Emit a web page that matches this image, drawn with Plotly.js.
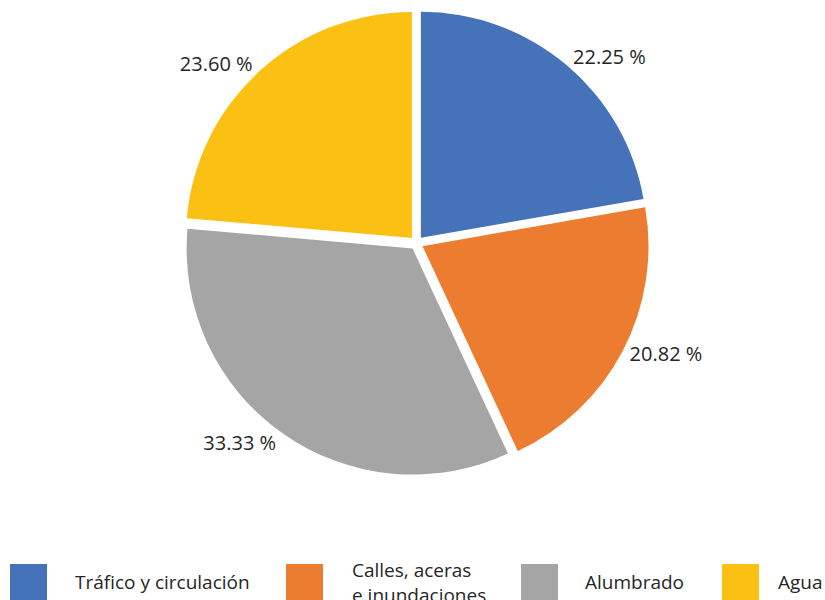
<!DOCTYPE html>
<html>
<head>
<meta charset="utf-8">
<script src="https://cdn.plot.ly/plotly-3.0.1.min.js"></script>
<style>html,body{margin:0;padding:0;background:#fff;}#chart{width:825px;height:600px;}</style>
</head>
<body>
<div id="chart"></div>
<script>
const categories = ["Tráfico y circulación", "Calles, aceras<br>e inundaciones", "Alumbrado", "Agua"];
const shares = [22.25, 20.82, 33.33, 23.60];
const colors = ["#4672BA", "#EC7C30", "#A5A5A5", "#FBC014"];

const FONT = "Open Sans, Noto Sans, sans-serif";

const trace = {
  type: "pie",
  labels: categories,
  values: shares,
  sort: false,
  direction: "clockwise",
  rotation: 0,
  pull: 0.03,
  marker: {colors: colors, line: {width: 0}},
  texttemplate: "%{value:.2f} %",
  textposition: "outside",
  outsidetextfont: {family: FONT, size: 20, color: "#262626"},
  hoverinfo: "none",
  showlegend: false,
  domain: {x: [0.2227, 0.787], y: [0.207, 0.983]}
};

// custom legend built from categories and colors
const legendBoxX = [10, 286, 521, 722];
const legendTextX = [73, 350, 583, 776];
const shapes = [];
const annotations = [];
categories.forEach((c, i) => {
  shapes.push({
    type: "rect", xref: "paper", yref: "paper",
    x0: legendBoxX[i] / 825, x1: (legendBoxX[i] + 37) / 825,
    y0: 0, y1: 36 / 600,
    fillcolor: colors[i], line: {width: 0}
  });
  annotations.push({
    xref: "paper", yref: "paper",
    x: legendTextX[i] / 825, y: 18 / 600,
    xanchor: "left", yanchor: "middle", align: "left",
    text: c, showarrow: false,
    font: {family: FONT, size: 19, color: "#262626"}
  });
});

const layout = {
  width: 825, height: 600,
  margin: {l: 0, r: 0, t: 0, b: 0},
  paper_bgcolor: "#ffffff",
  plot_bgcolor: "#ffffff",
  shapes: shapes,
  annotations: annotations
};

Plotly.newPlot("chart", [trace], layout, {displayModeBar: false, staticPlot: true});
</script>
</body>
</html>
